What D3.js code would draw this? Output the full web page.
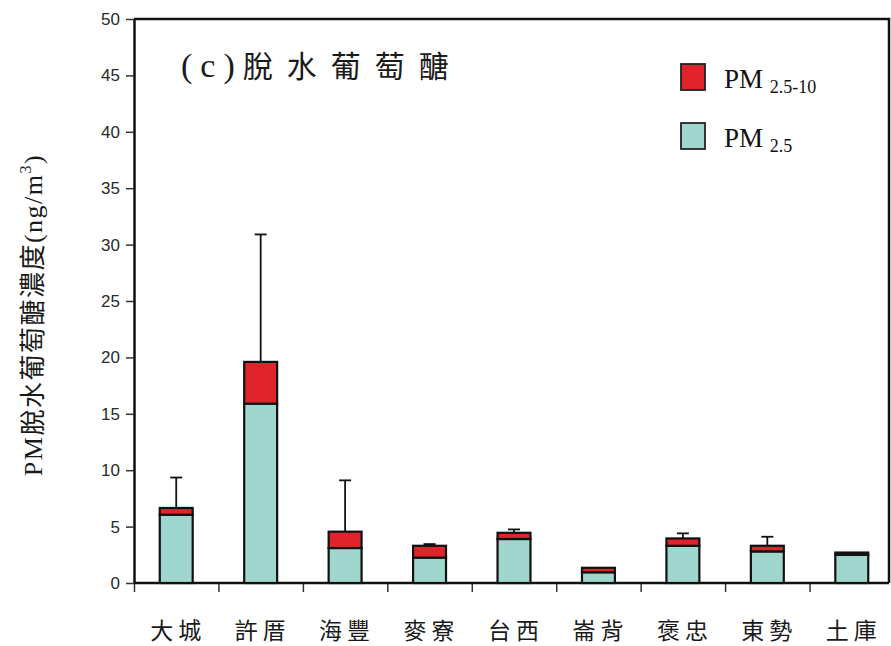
<!DOCTYPE html>
<html>
<head>
<meta charset="utf-8">
<script src="https://cdn.jsdelivr.net/npm/d3@7"></script>
<style>
html,body{margin:0;padding:0;background:#fff;}
svg{display:block;}
</style>
</head>
<body>
<svg id="chart" width="891" height="646"></svg>
<script>
const categories = ["大城","許厝","海豐","麥寮","台西","崙背","褒忠","東勢","土庫"];
const pm25 = [6.05, 15.9, 3.1, 2.25, 3.9, 0.95, 3.3, 2.8, 2.5];
const pmCoarse = [0.6, 3.7, 1.45, 1.05, 0.55, 0.4, 0.65, 0.5, 0.2];
const errUp = [2.7, 11.3, 4.55, 0.15, 0.3, 0, 0.45, 0.8, 0];
const yTicks = [0,5,10,15,20,25,30,35,40,45,50];
const seriesKeys = ["pm25","coarse"];
const seriesColors = {pm25:"#9fd6cd", coarse:"#e0242c"};
const legendLabels = [{key:"coarse", main:"PM", sub:"2.5-10"},{key:"pm25", main:"PM", sub:"2.5"}];

const data = categories.map((c,i)=>({cat:c, pm25:pm25[i], coarse:pmCoarse[i], err:errUp[i]}));

const svg = d3.select("#chart");
const L = 134, R = 894, T = 19, B = 583, frameR = 889;

const x = d3.scaleBand().domain(categories).range([L,R]).paddingInner(0.61).paddingOuter(0.305);
const xb = d3.scaleLinear().domain([0,categories.length]).range([L,R]);
const y = d3.scaleLinear().domain([0,50]).range([B,T]);

// frame (top & right)
svg.append("path").attr("d",`M${L},${T}H${frameR}V${B}`).attr("fill","none").attr("stroke","#111").attr("stroke-width",2.5);

// y axis
const yAxis = svg.append("g").attr("transform",`translate(${L},0)`)
  .call(d3.axisLeft(y).tickValues(yTicks).tickSize(8).tickSizeOuter(0).tickPadding(6));
yAxis.select(".domain").attr("stroke","#111").attr("stroke-width",2.5);
yAxis.selectAll(".tick line").attr("stroke","#333").attr("stroke-width",1.5);
yAxis.selectAll(".tick text").attr("font-family","'Liberation Sans', Arial, sans-serif").attr("font-size",17).attr("fill","#2a2a2a");

// x axis ticks at boundaries
const xAxis = svg.append("g").attr("transform",`translate(0,${B})`)
  .call(d3.axisBottom(xb).tickValues(d3.range(0,categories.length+1)).tickFormat("").tickSize(9).tickSizeOuter(0));
xAxis.select(".domain").remove();
xAxis.selectAll(".tick line").attr("stroke","#333").attr("stroke-width",1.5);
svg.append("line").attr("x1",L).attr("x2",frameR).attr("y1",B).attr("y2",B).attr("stroke","#111").attr("stroke-width",2.5);

// x labels
svg.append("g").selectAll("text").data(categories).join("text")
  .attr("x",d=>x(d)+x.bandwidth()/2+2).attr("y",639)
  .attr("text-anchor","middle")
  .attr("font-family","'Noto Sans CJK TC', sans-serif").attr("font-size",23)
  .attr("letter-spacing",5).attr("fill","#1a1a1a")
  .text(d=>d);

// stacked bars
const stack = d3.stack().keys(seriesKeys)(data);
svg.append("g").selectAll("g").data(stack).join("g")
  .attr("fill",s=>seriesColors[s.key])
  .selectAll("rect").data(s=>s).join("rect")
  .attr("x",d=>x(d.data.cat)).attr("width",x.bandwidth())
  .attr("y",d=>y(d[1])).attr("height",d=>y(d[0])-y(d[1]))
  .attr("stroke","#111").attr("stroke-width",2.2);

// error bars
const eb = svg.append("g").attr("stroke","#111").attr("stroke-width",1.8);
data.filter(d=>d.err>0).forEach(d=>{
  const cx = x(d.cat)+x.bandwidth()/2;
  const top = d.pm25+d.coarse;
  eb.append("line").attr("x1",cx).attr("x2",cx).attr("y1",y(top)).attr("y2",y(top+d.err));
  eb.append("line").attr("x1",cx-6).attr("x2",cx+6).attr("y1",y(top+d.err)).attr("y2",y(top+d.err));
});

// title
const tt = svg.append("text").attr("x",181).attr("y",77).attr("fill","#1a1a1a");
tt.append("tspan").attr("font-family","'Liberation Serif', serif").attr("font-size",34).attr("letter-spacing",8).text("(c)");
tt.append("tspan").attr("font-family","'Noto Sans CJK TC', sans-serif").attr("font-size",30).attr("letter-spacing",14).text("脫水葡萄醣");

// legend
const lg = svg.append("g");
legendLabels.forEach((l,i)=>{
  const ly = 64 + i*59;
  lg.append("rect").attr("x",681).attr("y",ly).attr("width",24).attr("height",26)
    .attr("fill",seriesColors[l.key]).attr("stroke","#222").attr("stroke-width",1.8);
  const t = lg.append("text").attr("x",724).attr("y",ly+24)
    .attr("font-family","'Liberation Serif', serif").attr("font-size",27).attr("fill","#111");
  t.append("tspan").text(l.main+" ");
  t.append("tspan").attr("font-size",18).attr("dy",5).text(l.sub);
});

// y label
const yl = svg.append("text")
  .attr("transform","translate(42,315) rotate(-90)")
  .attr("text-anchor","middle")
  .attr("font-family","'Liberation Serif', 'Noto Sans CJK TC', serif").attr("font-size",26)
  .attr("letter-spacing",1.5)
  .attr("fill","#1a1a1a");
yl.append("tspan").text("PM脫水葡萄醣濃度(ng/m");
yl.append("tspan").attr("font-size",16).attr("dy",-11).text("3");
yl.append("tspan").attr("dy",11).text(")");
</script>
</body>
</html>
